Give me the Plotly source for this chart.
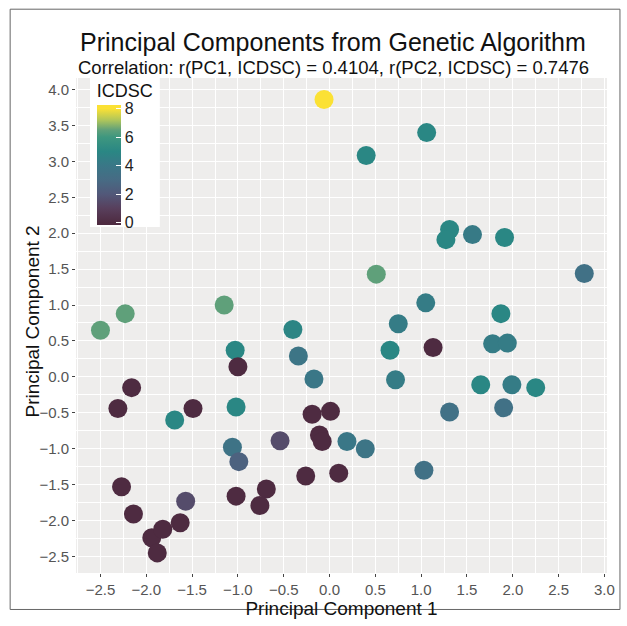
import plotly.graph_objects as go

pc1 = [-0.06, 1.06, 0.40, 1.31, 1.27, 1.56, 1.91, 2.78, 0.51, -1.15,
       -2.23, -2.50, 1.05, 1.87, 0.75, -0.40, -1.03, 0.66, -0.34, 1.13,
       1.78, 1.94, -1.00, -2.16, -0.17, 0.72, 1.65, 1.99, 2.25, -2.31,
       -1.49, -1.69, -1.02, -0.19, 0.01, 1.31, 1.90, -1.06, -0.99, -0.54,
       -0.11, -0.08, 0.19, 0.39, 1.03, -2.27, -0.69, -1.02, -0.26, 0.10,
       -0.76, -1.57, -2.14, -1.94, -1.63, -1.82, -1.88]
pc2 = [3.86, 3.40, 3.08, 2.05, 1.91, 1.98, 1.94, 1.44, 1.43, 1.00,
       0.88, 0.65, 1.03, 0.88, 0.74, 0.66, 0.37, 0.37, 0.29, 0.41,
       0.46, 0.47, 0.14, -0.15, -0.03, -0.04, -0.11, -0.11, -0.15, -0.44,
       -0.44, -0.60, -0.42, -0.52, -0.48, -0.49, -0.43, -0.98, -1.18, -0.89,
       -0.81, -0.90, -0.90, -1.00, -1.30, -1.53, -1.56, -1.66, -1.38, -1.34,
       -1.79, -1.73, -1.91, -2.24, -2.03, -2.12, -2.45]
icdsc = [8, 5, 5, 5, 5, 4.2, 5, 3.5, 6.5, 6.5,
         6.5, 6.5, 4.3, 5, 4.3, 4.9, 5, 5, 3.8, 0,
         4.3, 4.3, 0, 0, 4.0, 4.3, 5, 4.3, 5, 0,
         0, 5, 5, 0, 0, 3.5, 3.5, 3.7, 2.5, 1.5,
         0, 0, 4.0, 3.8, 3.5, 0, 0, 0, 0, 0,
         0, 1.5, 0, 0, 0, 0, 0]

# colour stops defined by ICDSC value
stop_values = [0, 1, 2, 3, 4, 5, 6, 6.5, 7.2, 8]
stop_colors = ["#4e2b41", "#583f5c", "#525879", "#476b84", "#3a7787",
               "#2a8784", "#3e977f", "#5fa07a", "#b0c65a", "#fbe134"]
cmin, cmax = -0.15, 8.25
colorscale = [[0.0, stop_colors[0]]]
for v, c in zip(stop_values, stop_colors):
    colorscale.append([(v - cmin) / (cmax - cmin), c])
colorscale.append([1.0, stop_colors[-1]])

fig = go.Figure()
fig.add_trace(go.Scatter(
    x=pc1, y=pc2, mode="markers",
    marker=dict(
        size=19, color=icdsc, colorscale=colorscale, cmin=cmin, cmax=cmax,
        line=dict(width=0),
        colorbar=dict(
            title=dict(text="ICDSC", side="top", font=dict(size=18, color="#111")),
            x=0.026, xanchor="left", y=1.0, yanchor="top",
            lenmode="pixels", len=149, thickness=24, thicknessmode="pixels",
            xpad=7, ypad=2,
            bgcolor="white", outlinewidth=0,
            tickvals=[0, 2, 4, 6, 8], ticks="inside", ticklen=5, tickcolor="white",
            tickfont=dict(size=16, color="#222"),
        ),
    ),
    showlegend=False,
))

axis_common = dict(
    showgrid=True, gridcolor="white", gridwidth=1.3,
    zeroline=False, showline=False,
    ticks="outside", ticklen=3, tickcolor="#444", tickwidth=1,
    tickfont=dict(size=15, color="#555"), tickformat=".1f",
    dtick=0.5,
    minor=dict(dtick=0.25, showgrid=True, gridcolor="white", gridwidth=0.6),
)

fig.update_layout(
    width=627, height=626,
    margin=dict(l=76, r=19, t=78, b=46),
    paper_bgcolor="white", plot_bgcolor="#eeedec",
    font=dict(family="Liberation Sans, Arial, sans-serif"),
    xaxis=dict(range=[-2.767, 3.028], tick0=-2.5,
               title=dict(text="Principal Component 1", font=dict(size=19, color="#111"), standoff=3),
               **axis_common),
    yaxis=dict(range=[-2.73, 4.16], tick0=-2.5, **axis_common),
    annotations=[
        dict(text="Principal Components from Genetic Algorithm", x=0.004, y=1.072,
             xref="paper", yref="paper", xanchor="left", yanchor="middle",
             showarrow=False, font=dict(size=25, color="#111")),
        dict(text="Correlation: r(PC1, ICDSC) = 0.4104, r(PC2, ICDSC) = 0.7476", x=0.0, y=1.022,
             xref="paper", yref="paper", xanchor="left", yanchor="middle",
             showarrow=False, font=dict(size=18.5, color="#111")),
        dict(text="Principal Component 2", x=-0.081, y=0.508, textangle=-90,
             xref="paper", yref="paper", xanchor="center", yanchor="middle",
             showarrow=False, font=dict(size=19, color="#111")),
    ],
    shapes=[
        dict(type="rect", xref="paper", yref="paper",
             x0=-0.124, x1=1.0244, y0=-0.0737, y1=1.139,
             line=dict(color="#666", width=1), fillcolor="rgba(0,0,0,0)", layer="above"),
    ],
)

fig.write_html("out.html")
